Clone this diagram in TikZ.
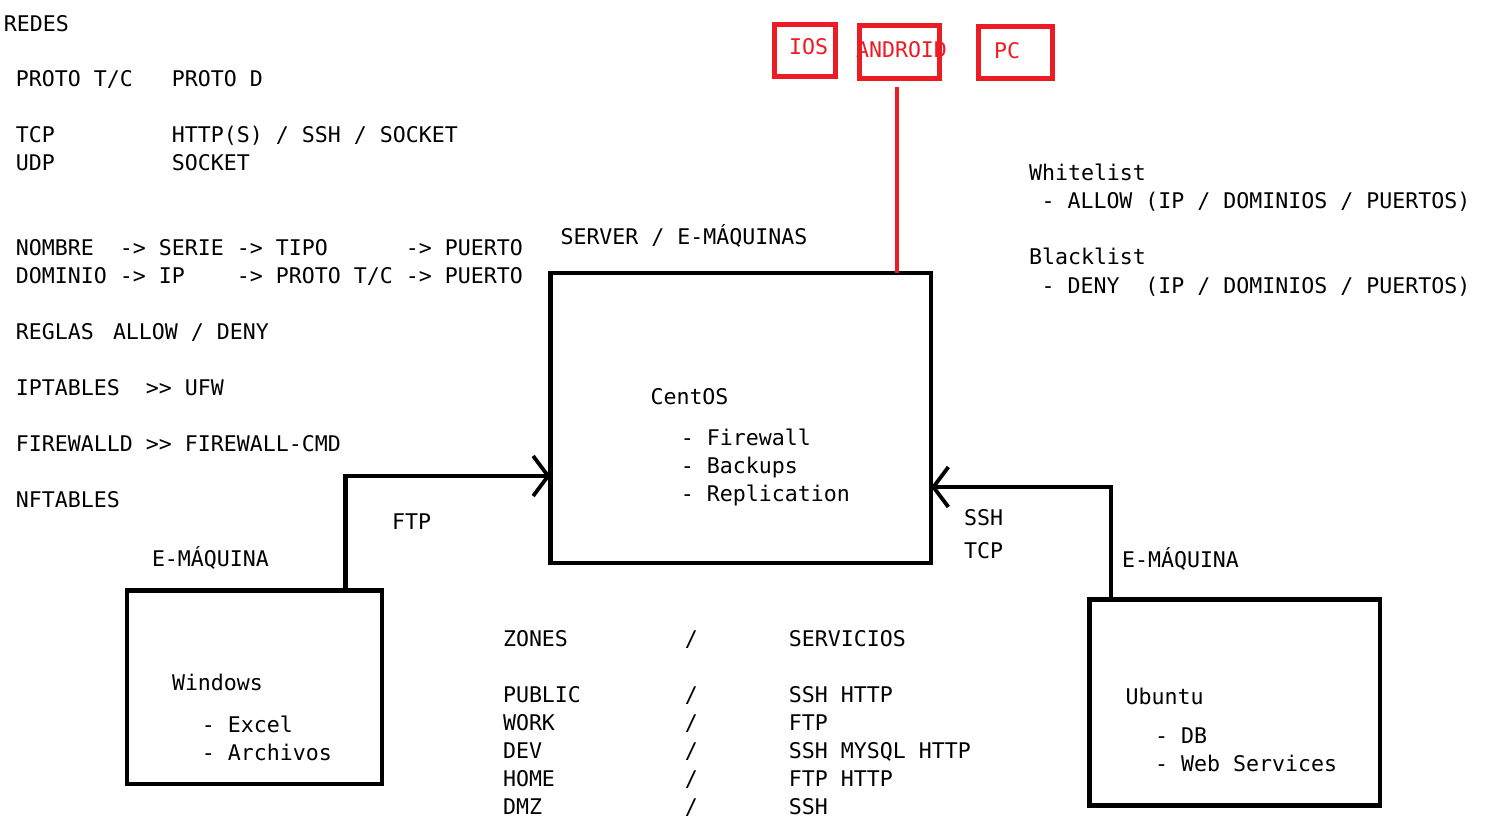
\documentclass[tikz,border=0pt]{standalone}
\usepackage{fontspec}
\setmonofont{DejaVu Sans Mono}
\usetikzlibrary{arrows.meta}
\definecolor{pred}{RGB}{237,28,36}
\newcommand\mfont{\ttfamily\fontsize{21.59}{26}\selectfont}
\begin{document}
\begin{tikzpicture}[x=1pt,y=-1pt,
  txt/.style={anchor=base west, inner sep=0pt, outer sep=0pt, font=\mfont, text=black},
  rtxt/.style={txt, text=pred},
  box/.style={draw=black, line width=4.8pt, inner sep=0pt, outer sep=0pt},
  rbox/.style={draw=pred, line width=5pt, inner sep=0pt, outer sep=0pt},
  conn/.style={draw=black, line width=4.8pt, line join=miter},
  tipc/.style={-{Straight Barb[length=15pt,width=40pt,line width=3.8pt]}}
]
\useasboundingbox (0,0) rectangle (1490,834);
\fill[white] (0,0) rectangle (1490,834);

% ---------- left notes ----------
\node[txt] (redes) at (4,31.5) {REDES};
\node[txt] (proto) at (16,87) {PROTO T/C~~~PROTO D};
\node[txt] (tcp) at (16,143) {TCP~~~~~~~~~HTTP(S) / SSH / SOCKET};
\node[txt] (udp) at (16,171) {UDP~~~~~~~~~SOCKET};
\node[txt] (nombre) at (16,255.7) {NOMBRE~~-> SERIE -> TIPO~~~~~~-> PUERTO};
\node[txt] (dominio) at (16,283.5) {DOMINIO -> IP~~~~-> PROTO T/C -> PUERTO};
\node[txt] (reglas) at (16,339.5) {REGLAS};
\node[txt] (allowdeny) at (113,339.5) {ALLOW / DENY};
\node[txt] (iptables) at (16,395.5) {IPTABLES~~>> UFW};
\node[txt] (firewalld) at (16,451.5) {FIREWALLD >> FIREWALL-CMD};
\node[txt] (nftables) at (16,507.5) {NFTABLES};

% ---------- server box ----------
\node[txt] (serverlbl) at (560.5,245) {SERVER / E-MÁQUINAS};
\node[box, minimum width=380.5pt, minimum height=290pt] (centos) at (740.75,418) {};
\node[txt] (centosname) at (650.5,404) {CentOS};
\node[txt] (fw) at (680.8,445) {- Firewall};
\node[txt] (bk) at (680.8,473) {- Backups};
\node[txt] (rp) at (680.8,501) {- Replication};

% ---------- windows box ----------
\node[txt] (emleft) at (152,566.7) {E-MÁQUINA};
\node[box, minimum width=255pt, minimum height=193.5pt] (win) at (254.5,687.25) {};
\node[txt] (winname) at (172,690) {Windows};
\node[txt] (excel) at (201.8,732.3) {- Excel};
\node[txt] (arch) at (201.8,760.3) {- Archivos};
\node[txt] (ftplbl) at (392,529) {FTP};

% ---------- ubuntu box ----------
\node[txt] (emright) at (1122,567.3) {E-MÁQUINA};
\node[box, minimum width=290.3pt, minimum height=206.3pt] (ubu) at (1234.85,702.65) {};
\node[txt] (ubuname) at (1125.5,704.3) {Ubuntu};
\node[txt] (db) at (1155.2,743.3) {- DB};
\node[txt] (ws) at (1155.2,771.3) {- Web Services};
\node[txt] (sshlbl) at (964,525) {SSH};
\node[txt] (tcplbl) at (964,558.3) {TCP};

% ---------- white / black list ----------
\node[txt] (white) at (1029,181) {Whitelist};
\node[txt] (allow) at (1041.5,209) {- ALLOW (IP / DOMINIOS / PUERTOS)};
\node[txt] (black) at (1029,265) {Blacklist};
\node[txt] (deny) at (1041.5,293) {- DENY~~(IP / DOMINIOS / PUERTOS)};

% ---------- zones ----------
\node[txt] (zones) at (503,646.7) {ZONES~~~~~~~~~/~~~~~~~SERVICIOS};
\node[txt] (zpub) at (503,702.5) {PUBLIC~~~~~~~~/~~~~~~~SSH HTTP};
\node[txt] (zwork) at (503,730.5) {WORK~~~~~~~~~~/~~~~~~~FTP};
\node[txt] (zdev) at (503,758.5) {DEV~~~~~~~~~~~/~~~~~~~SSH MYSQL HTTP};
\node[txt] (zhome) at (503,786.5) {HOME~~~~~~~~~~/~~~~~~~FTP HTTP};
\node[txt] (zdmz) at (503,814.5) {DMZ~~~~~~~~~~~/~~~~~~~SSH};

% ---------- red devices ----------
\node[rbox, minimum width=61pt, minimum height=51.4pt] (ios) at (805.3,50.5) {};
\node[rbox, minimum width=79.7pt, minimum height=52.5pt] (android) at (899.35,52.05) {};
\node[rbox, minimum width=74pt, minimum height=51.6pt] (pc) at (1015.8,52.5) {};
\node[rtxt] (iostxt) at (789,55) {IOS};
\node[rtxt] (androidtxt) at (856,57.5) {ANDROID};
\node[rtxt] (pctxt) at (994,58.5) {PC};
\coordinate (redtop) at (897,86.7);
\draw[draw=pred, line width=4.6pt] (redtop) -- (redtop |- centos.north);

% ---------- connectors ----------
\coordinate (ftpout) at (345.3,590.5);
\coordinate (ftpin) at (550.5,476);
\draw[conn, tipc] (ftpout) |- (ftpin);
\coordinate (sshout) at (1111,599.5);
\coordinate (sshin) at (931,487);
\draw[conn, tipc] (sshout) |- (sshin);
\end{tikzpicture}
\end{document}
